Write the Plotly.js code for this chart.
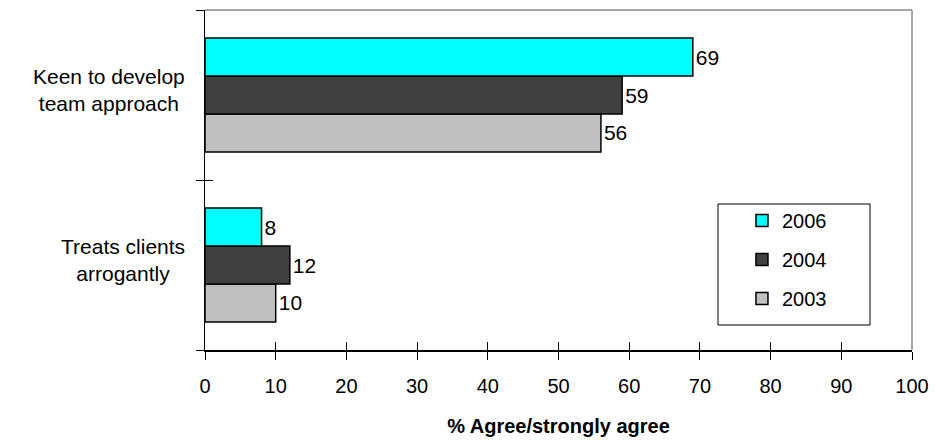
<!DOCTYPE html>
<html>
<head>
<meta charset="utf-8">
<script src="https://cdn.plot.ly/plotly-3.0.1.min.js"></script>
<style>html,body{margin:0;padding:0;background:#fff;}#chart{width:936px;height:440px;}</style>
</head>
<body>
<div id="chart"></div>
<script>
// Categories (top to bottom as shown)
var categories = ['Keen to develop<br>team approach', 'Treats clients<br>arrogantly'];
var years = ['2006', '2004', '2003'];
var values2006 = [69, 8];
var values2004 = [59, 12];
var values2003 = [56, 10];
var xTicks = [0, 10, 20, 30, 40, 50, 60, 70, 80, 90, 100];

var colors = {'2006': '#00FFFF', '2004': '#404040', '2003': '#C0C0C0'};
var seriesByYear = {'2006': values2006, '2004': values2004, '2003': values2003};
var font = 'Liberation Sans, Arial, sans-serif';

// Plotly places grouped horizontal bars bottom-up, so add 2003 first
var traces = ['2003', '2004', '2006'].map(function (yr) {
  return {
    type: 'bar', orientation: 'h', name: yr, legendgroup: yr,
    legendrank: years.indexOf(yr) + 1,
    y: categories, x: seriesByYear[yr],
    text: seriesByYear[yr].map(String), textposition: 'outside',
    textfont: {family: font, size: 21, color: '#000'},
    cliponaxis: false,
    marker: {color: colors[yr], line: {color: '#000', width: 1.5}},
    hoverinfo: 'x+name'
  };
});

var annotations = categories.map(function (c) {
  return {
    text: c, xref: 'paper', yref: 'y', x: 0, y: c, xanchor: 'right', yanchor: 'middle',
    xshift: -18, yshift: 5, align: 'center', showarrow: false,
    font: {family: font, size: 21, color: '#000'}
  };
});

var layout = {
  width: 936, height: 440,
  margin: {l: 205, r: 24, t: 10, b: 90},
  paper_bgcolor: '#fff', plot_bgcolor: '#fff',
  font: {family: font, size: 20, color: '#000'},
  barmode: 'group', bargap: 0.33, bargroupgap: 0,
  showlegend: true,
  legend: {
    x: 0.7595, y: 0.438, xanchor: 'left', yanchor: 'top',
    traceorder: 'grouped', tracegroupgap: 10,
    font: {family: font, size: 20, color: '#000'},
    bgcolor: 'rgba(0,0,0,0)', borderwidth: 0
  },
  xaxis: {
    range: [0, 100], tickvals: xTicks, ticktext: xTicks.map(String),
    ticks: 'outside', ticklen: 8, tickcolor: '#000', tickwidth: 1,
    showline: true, linecolor: '#000', linewidth: 1.5, mirror: false,
    showgrid: false, zeroline: false, fixedrange: true,
    ticklabelstandoff: 9,
    tickfont: {family: font, size: 20, color: '#000'},
    title: {text: '<b>% Agree/strongly agree</b>', standoff: 23,
            font: {family: font, size: 20, color: '#000'}}
  },
  xaxis2: {
    overlaying: 'x', range: [0, 100], tickvals: xTicks, showticklabels: false,
    ticks: 'inside', ticklen: 8, tickcolor: '#000', showgrid: false, zeroline: false,
    showline: false, fixedrange: true
  },
  yaxis: {
    type: 'category', categoryarray: categories.slice().reverse(), categoryorder: 'array',
    range: [-0.5, 1.5], tickson: 'boundaries',
    ticks: 'outside', ticklen: 8, tickcolor: '#000', tickwidth: 1,
    showticklabels: false,
    showline: true, linecolor: '#000', linewidth: 1.5,
    showgrid: false, zeroline: false, fixedrange: true
  },
  yaxis2: {
    overlaying: 'y', range: [-0.5, 1.5], tickvals: [-0.5, 0.5, 1.5], showticklabels: false,
    ticks: 'inside', ticklen: 8, tickcolor: '#000', showgrid: false, zeroline: false,
    showline: false, fixedrange: true
  },
  shapes: [
    // gray top/right plot frame
    {type: 'line', xref: 'paper', yref: 'paper', x0: 0, x1: 1, y0: 1, y1: 1, line: {color: '#8a8a8a', width: 1.5}},
    {type: 'line', xref: 'paper', yref: 'paper', x0: 1, x1: 1, y0: 0, y1: 1, line: {color: '#8a8a8a', width: 1.5}},
    // legend box
    {type: 'rect', xref: 'paper', yref: 'paper', x0: 0.7256, x1: 0.9406, y0: 0.0735, y1: 0.4294,
     line: {color: '#000', width: 1}, fillcolor: 'rgba(0,0,0,0)'}
  ],
  annotations: annotations
};

// hidden helper trace so the overlay axes draw their ticks
traces.push({type: 'scatter', x: [0], y: [0], xaxis: 'x2', yaxis: 'y2', mode: 'markers',
  marker: {opacity: 0}, showlegend: false, hoverinfo: 'skip'});

Plotly.newPlot('chart', traces, layout, {displayModeBar: false, staticPlot: true});
</script>
</body>
</html>
